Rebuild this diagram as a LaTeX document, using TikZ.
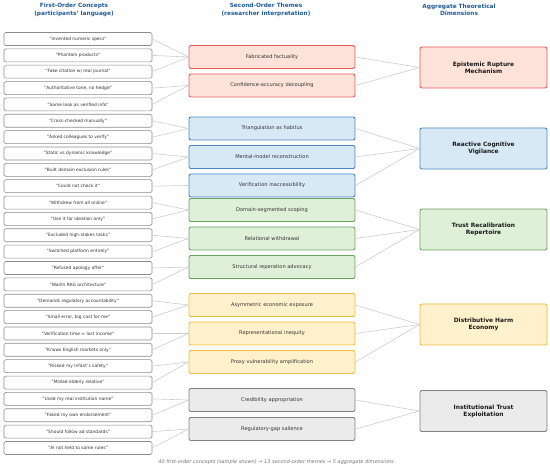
\documentclass[tikz,border=0pt]{standalone}
\usepackage{fontspec}
\setmainfont{DejaVu Sans}
\usepackage{tikz}
\usetikzlibrary{positioning}

\definecolor{redfill}{HTML}{FDE2D9}
\definecolor{reddraw}{HTML}{E85A5C}
\definecolor{bluefill}{HTML}{D8E9F6}
\definecolor{bluedraw}{HTML}{4A88BE}
\definecolor{greenfill}{HTML}{DFF0D9}
\definecolor{greendraw}{HTML}{6AA35F}
\definecolor{yellowfill}{HTML}{FFF1CB}
\definecolor{yellowdraw}{HTML}{F0BD3E}
\definecolor{grayfill}{HTML}{EBEBEB}
\definecolor{graydraw}{HTML}{808080}
\definecolor{headblue}{HTML}{1F5C99}

\begin{document}
\begin{tikzpicture}[x=1pt,y=-1pt,
      concept/.style={draw=black!45, line width=0.6pt, fill=white, rounded corners=1.5pt,
         minimum width=148pt, minimum height=13pt, inner sep=0pt,
         text=black!80, font=\fontsize{4.4}{5}\selectfont},
      theme/.style={rounded corners=2pt, line width=0.9pt, minimum width=166pt,
         minimum height=23pt, inner sep=0pt, text=black!80,
         font=\fontsize{5.1}{6}\selectfont},
      dim/.style={rounded corners=2pt, line width=0.9pt, minimum width=127pt,
         minimum height=41pt, inner sep=0pt, align=center, text=black!90,
         font=\bfseries\fontsize{5.9}{7}\selectfont},
      head/.style={align=center, text=headblue, font=\bfseries\fontsize{5.8}{7.6}\selectfont},
      link/.style={draw=black!20, line width=0.6pt}]
    \useasboundingbox (0,0) rectangle (550,468);

    % column headings
    \node [head] at (74,10) (h1) {First-Order Concepts\\(participants' language)};
    \node [head] at (266,10) (h2) {Second-Order Themes\\(researcher interpretation)};
    \node [head] at (459,10) (h3) {Aggregate Theoretical\\Dimensions};

    % first-order concepts
    \node [concept] at (78,39.0) (fo1) {"Invented numeric specs"};
    \node [concept] at (78,55.4) (fo2) {"Phantom products"};
    \node [concept] at (78,71.7) (fo3) {"Fake citation w/ real journal"};
    \node [concept] at (78,88.1) (fo4) {"Authoritative tone, no hedge"};
    \node [concept] at (78,104.4) (fo5) {"Same look as verified info"};
    \node [concept] at (78,120.8) (fo6) {"Cross-checked manually"};
    \node [concept] at (78,137.2) (fo7) {"Asked colleagues to verify"};
    \node [concept] at (78,153.5) (fo8) {"Static vs dynamic knowledge"};
    \node [concept] at (78,169.9) (fo9) {"Built domain exclusion rules"};
    \node [concept] at (78,186.2) (fo10) {"Could not check it"};
    \node [concept] at (78,202.6) (fo11) {"Withdrew from all online"};
    \node [concept] at (78,218.9) (fo12) {"Use it for ideation only"};
    \node [concept] at (78,235.3) (fo13) {"Excluded high-stakes tasks"};
    \node [concept] at (78,251.7) (fo14) {"Switched platform entirely"};
    \node [concept] at (78,268.0) (fo15) {"Refused apology offer"};
    \node [concept] at (78,284.4) (fo16) {"Wants RAG architecture"};
    \node [concept] at (78,300.8) (fo17) {"Demands regulatory accountability"};
    \node [concept] at (78,317.1) (fo18) {"Small error, big cost for me"};
    \node [concept] at (78,333.5) (fo19) {"Verification time = lost income"};
    \node [concept] at (78,349.8) (fo20) {"Knows English markets only"};
    \node [concept] at (78,366.2) (fo21) {"Risked my infant's safety"};
    \node [concept] at (78,382.6) (fo22) {"Misled elderly relative"};
    \node [concept] at (78,398.9) (fo23) {"Used my real institution name"};
    \node [concept] at (78,415.3) (fo24) {"Faked my own endorsement"};
    \node [concept] at (78,431.6) (fo25) {"Should follow ad standards"};
    \node [concept] at (78,448.0) (fo26) {"AI not held to same rules"};

    % second-order themes
    \node [theme, fill=redfill, draw=reddraw] at (272,57) (so1) {Fabricated factuality};
    \node [theme, fill=redfill, draw=reddraw] at (272,85.5) (so2) {Confidence-accuracy decoupling};
    \node [theme, fill=bluefill, draw=bluedraw] at (272,128.5) (so3) {Triangulation as habitus};
    \node [theme, fill=bluefill, draw=bluedraw] at (272,157) (so4) {Mental-model reconstruction};
    \node [theme, fill=bluefill, draw=bluedraw] at (272,185.5) (so5) {Verification inaccessibility};
    \node [theme, fill=greenfill, draw=greendraw] at (272,210) (so6) {Domain-segmented scoping};
    \node [theme, fill=greenfill, draw=greendraw] at (272,238.5) (so7) {Relational withdrawal};
    \node [theme, fill=greenfill, draw=greendraw] at (272,267) (so8) {Structural reperation advocacy};
    \node [theme, fill=yellowfill, draw=yellowdraw] at (272,305) (so9) {Asymmetric economic exposure};
    \node [theme, fill=yellowfill, draw=yellowdraw] at (272,333.5) (so10) {Representational inequity};
    \node [theme, fill=yellowfill, draw=yellowdraw] at (272,362) (so11) {Proxy vulnerability amplification};
    \node [theme, fill=grayfill, draw=graydraw] at (272,400) (so12) {Credibility appropriation};
    \node [theme, fill=grayfill, draw=graydraw] at (272,429) (so13) {Regulatory-gap salience};

    % aggregate dimensions
    \node [dim, fill=redfill, draw=reddraw] at (483.5,67.5) (agg1) {Epistemic Rupture\\Mechanism};
    \node [dim, fill=bluefill, draw=bluedraw] at (483.5,148.5) (agg2) {Reactive Cognitive\\Vigilance};
    \node [dim, fill=greenfill, draw=greendraw] at (483.5,229.5) (agg3) {Trust Recalibration\\Repertoire};
    \node [dim, fill=yellowfill, draw=yellowdraw] at (483.5,324.5) (agg4) {Distributive Harm\\Economy};
    \node [dim, fill=grayfill, draw=graydraw] at (483.5,411) (agg5) {Institutional Trust\\Exploitation};

    % concepts -> themes
    \draw [link] (fo1.east) -- (so1.west);
    \draw [link] (fo2.east) -- (so1.west);
    \draw [link] (fo3.east) -- (so1.west);
    \draw [link] (fo4.east) -- (so2.west);
    \draw [link] (fo5.east) -- (so2.west);
    \draw [link] (fo6.east) -- (so3.west);
    \draw [link] (fo7.east) -- (so3.west);
    \draw [link] (fo8.east) -- (so4.west);
    \draw [link] (fo9.east) -- (so4.west);
    \draw [link] (fo10.east) -- (so5.west);
    \draw [link] (fo11.east) -- (so6.west);
    \draw [link] (fo12.east) -- (so6.west);
    \draw [link] (fo13.east) -- (so7.west);
    \draw [link] (fo14.east) -- (so7.west);
    \draw [link] (fo15.east) -- (so8.west);
    \draw [link] (fo16.east) -- (so8.west);
    \draw [link] (fo17.east) -- (so9.west);
    \draw [link] (fo18.east) -- (so9.west);
    \draw [link] (fo19.east) -- (so10.west);
    \draw [link] (fo20.east) -- (so10.west);
    \draw [link] (fo21.east) -- (so11.west);
    \draw [link] (fo22.east) -- (so11.west);
    \draw [link] (fo23.east) -- (so12.west);
    \draw [link] (fo24.east) -- (so12.west);
    \draw [link] (fo25.east) -- (so13.west);
    \draw [link] (fo26.east) -- (so13.west);

    % themes -> dimensions
    \draw [link] (so1.east) -- (agg1.west);
    \draw [link] (so2.east) -- (agg1.west);
    \draw [link] (so3.east) -- (agg2.west);
    \draw [link] (so4.east) -- (agg2.west);
    \draw [link] (so5.east) -- (agg2.west);
    \draw [link] (so6.east) -- (agg3.west);
    \draw [link] (so7.east) -- (agg3.west);
    \draw [link] (so8.east) -- (agg3.west);
    \draw [link] (so9.east) -- (agg4.west);
    \draw [link] (so10.east) -- (agg4.west);
    \draw [link] (so11.east) -- (agg4.west);
    \draw [link] (so12.east) -- (agg5.west);
    \draw [link] (so13.east) -- (agg5.west);

    \node [text=black!55, font=\itshape\fontsize{5}{6}\selectfont] at (276,462) (note)
      {40 first-order concepts (sample shown) → 13 second-order themes → 5 aggregate dimensions};
\end{tikzpicture}
\end{document}
